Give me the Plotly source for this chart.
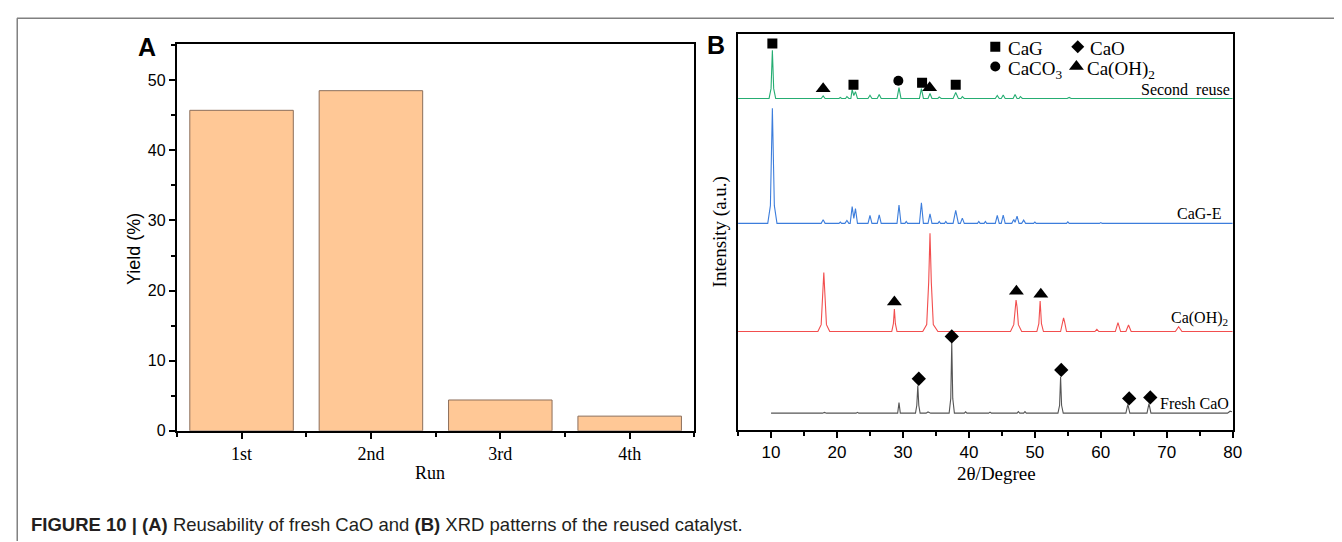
import plotly.graph_objects as go

# ---------------- data ----------------
RUN_LABELS = ["1st", "2nd", "3rd", "4th"]
YIELD_PCT = [45.7, 48.5, 4.4, 2.1]

# XRD patterns: (2theta, relative intensity above the pattern baseline)
XRD_SECOND_REUSE = [
    (5.0, 0), (9.7, 0), (10.0, 10), (10.2, 49), (10.4, 10), (10.7, 0),
    (17.6, 0), (17.9, 2.7), (18.2, 0), (20.3, 0), (20.5, 1), (20.7, 0),
    (21.3, 0), (21.5, 2), (21.8, 0), (22.1, 0), (22.3, 9), (22.55, 3), (22.8, 7), (23.1, 0),
    (24.7, 0), (25.0, 3.3), (25.3, 0), (26.1, 0), (26.4, 4), (26.7, 0),
    (29.1, 0), (29.4, 11), (29.7, 0), (32.5, 0), (32.8, 10), (33.1, 0),
    (33.8, 0), (34.1, 5), (34.4, 0), (35.3, 0), (35.5, 1.5), (35.8, 0),
    (37.6, 0), (38.0, 6), (38.4, 0), (38.8, 0), (39.0, 2), (39.3, 0),
    (44.0, 0), (44.3, 3), (44.6, 0), (44.9, 0), (45.2, 3.5), (45.5, 0),
    (46.7, 0), (47.0, 4), (47.3, 0), (47.6, 0), (47.8, 2), (48.1, 0),
    (54.9, 0), (55.2, 1), (55.5, 0), (80.0, 0),
]
XRD_CAG_E = [
    (5.0, 0), (9.5, 0), (9.9, 18), (10.2, 117), (10.5, 18), (10.9, 0),
    (17.6, 0), (17.9, 3.7), (18.2, 0), (20.3, 0), (20.5, 1.3), (20.7, 0),
    (21.2, 0), (21.5, 3), (21.8, 0), (22.0, 0), (22.3, 17), (22.55, 5), (22.8, 15), (23.1, 0),
    (24.7, 0), (25.0, 8), (25.3, 0), (26.1, 0), (26.4, 8.7), (26.7, 0),
    (29.1, 0), (29.4, 18.7), (29.7, 0), (30.3, 0), (30.5, 2), (30.7, 0),
    (32.5, 0), (32.8, 21), (33.1, 0), (33.8, 0), (34.1, 9.7), (34.4, 0),
    (35.3, 0), (35.5, 2), (35.7, 0), (36.3, 0), (36.5, 2), (36.7, 0),
    (37.6, 0), (38.0, 13.3), (38.4, 0), (38.7, 0), (39.0, 5.3), (39.3, 0),
    (41.3, 0), (41.5, 2), (41.7, 0), (42.3, 0), (42.5, 2), (42.7, 0),
    (44.0, 0), (44.3, 8), (44.6, 0), (44.9, 0), (45.2, 8.3), (45.5, 0),
    (46.5, 0), (46.8, 4), (47.0, 1), (47.3, 7.3), (47.6, 0),
    (48.0, 0), (48.3, 3.3), (48.6, 0), (49.8, 0), (50.0, 1.3), (50.2, 0),
    (54.8, 0), (55.0, 1.5), (55.2, 0), (59.8, 0), (60.0, 0.8), (60.2, 0), (80.0, 0),
]
XRD_CAOH2 = [
    (5.0, 0), (17.1, 0), (17.6, 7), (17.85, 40), (18.0, 60), (18.15, 40), (18.4, 7), (18.9, 0),
    (28.3, 0), (28.55, 8), (28.7, 23), (28.85, 8), (29.1, 0),
    (33.0, 0), (33.6, 7), (33.9, 50), (34.1, 100), (34.3, 50), (34.6, 7), (35.3, 0),
    (46.3, 0), (46.8, 7), (47.0, 25), (47.15, 32), (47.3, 25), (47.5, 7), (48.0, 0),
    (50.3, 0), (50.6, 8), (50.8, 31), (51.0, 8), (51.3, 0),
    (53.9, 0), (54.2, 10), (54.35, 14), (54.5, 10), (54.8, 0),
    (59.1, 0), (59.4, 2.3), (59.7, 0), (62.2, 0), (62.6, 9), (63.0, 0),
    (63.8, 0), (64.2, 6.7), (64.6, 0), (71.3, 0), (71.8, 5), (72.3, 0), (80.0, 0),
]
XRD_FRESH_CAO = [
    (10.0, 0), (17.8, 0), (18.1, 0.8), (18.4, 0), (22.9, 0), (23.1, 0.8), (23.3, 0),
    (29.2, 0), (29.4, 10.7), (29.6, 0),
    (31.9, 0), (32.1, 8), (32.25, 28), (32.4, 8), (32.6, 0),
    (33.5, 0), (33.8, 1.2), (34.2, 0),
    (37.0, 0), (37.25, 15), (37.4, 72), (37.55, 15), (37.8, 0),
    (39.3, 0), (39.5, 1.3), (39.7, 0), (43.0, 0), (43.2, 1), (43.4, 0),
    (47.3, 0), (47.5, 1.5), (47.7, 0), (48.3, 0), (48.5, 1.5), (48.7, 0),
    (53.5, 0), (53.75, 8), (53.9, 37), (54.05, 8), (54.3, 0),
    (63.8, 0), (64.1, 9), (64.4, 0), (67.0, 0), (67.3, 9.7), (67.6, 0),
    (79.2, 0), (79.6, 2), (79.9, 1.5),
]
PATTERN_NAMES = ["Second  reuse", "CaG-E", "Ca(OH)<sub>2</sub>", "Fresh CaO"]

# phase markers (2theta, intensity in panel-B units)
CAG_MARK_X = [10.2, 22.5, 32.9, 38.0]
CAG_MARK_Y = [393, 351, 353, 351]
CACO3_MARK_X = [29.3]
CACO3_MARK_Y = [355]
CAOH2_MARK_X = [17.9, 34.05, 28.7, 47.2, 50.9]
CAOH2_MARK_Y = [347, 348, 130, 141, 138]
CAO_MARK_X = [32.4, 37.4, 54.0, 64.3, 67.5]
CAO_MARK_Y = [52, 95, 61, 32, 33]

# ---------------- layout helpers ----------------
W, H = 1342, 542
def PX(x):
    return x / W
def PY(y):
    return 1 - y / H

SERIF = "Liberation Serif, Times New Roman, serif"
SANS = "Liberation Sans, Arial, sans-serif"

BASELINES = [337, 210, 100, 17]
COLORS = ["#25AD72", "#3C7DDC", "#F24E4E", "#555555"]

fig = go.Figure()

# Panel A bars
fig.add_trace(go.Bar(
    x=list(range(len(RUN_LABELS))), y=YIELD_PCT, width=0.8,
    marker=dict(color="#FFC896", line=dict(color="#8C6E5A", width=1)),
    xaxis="x", yaxis="y", showlegend=False,
))

# Panel B patterns
for pat, base, col in zip([XRD_SECOND_REUSE, XRD_CAG_E, XRD_CAOH2, XRD_FRESH_CAO], BASELINES, COLORS):
    fig.add_trace(go.Scatter(
        x=[p[0] for p in pat], y=[p[1] + base for p in pat], mode="lines",
        line=dict(color=col, width=1.1), xaxis="x2", yaxis="y2", showlegend=False,
    ))

def add_marks(xs, ys, symbol, size):
    fig.add_trace(go.Scatter(
        x=xs, y=ys, mode="markers",
        marker=dict(symbol=symbol, size=size, color="black", line=dict(width=0)),
        xaxis="x2", yaxis="y2", showlegend=False,
    ))

add_marks(CAG_MARK_X, CAG_MARK_Y, "square", 10)
add_marks(CACO3_MARK_X, CACO3_MARK_Y, "circle", 10)
add_marks(CAOH2_MARK_X, CAOH2_MARK_Y, "triangle-up", 13)
add_marks(CAO_MARK_X, CAO_MARK_Y, "diamond", 11)

# legend keys in panel B
add_marks([44.0], [389.5], "square", 10)
add_marks([56.5], [389.5], "diamond", 10)
add_marks([44.0], [369.5], "circle", 10)
add_marks([56.3], [369.5], "triangle-up", 13)

annotations = []
def ann(text, x, y, size, family, xref="paper", yref="paper", xanchor="center", angle=0, color="black"):
    annotations.append(dict(text=text, x=x, y=y, xref=xref, yref=yref, xanchor=xanchor,
                            yanchor="middle", showarrow=False, textangle=angle,
                            font=dict(size=size, family=family, color=color)))

ann("<b>A</b>", PX(140), PY(40), 25, SANS)
ann("<b>B</b>", PX(713), PY(38), 25, SANS)
ann("Yield (%)", PX(127), PY(245), 18, SANS, angle=-90)
ann("Run", PX(425), PY(473), 18, SERIF)
ann("Intensity (a.u.)", PX(717), PY(228), 19, SERIF, angle=-90)
ann("2θ/Degree", PX(995), PY(473), 19, SERIF)

# legend text
ann("CaG", 45.6, 388, 19, SERIF, "x2", "y2", "left")
ann("CaO", 58.0, 388, 19, SERIF, "x2", "y2", "left")
ann("CaCO<sub>3</sub>", 45.6, 366, 19, SERIF, "x2", "y2", "left")
ann("Ca(OH)<sub>2</sub>", 57.6, 366, 19, SERIF, "x2", "y2", "left")

# pattern labels
label_pos = [(79.9, 346), (78.5, 220), (79.6, 113), (79.7, 27)]
for name, (lx, ly) in zip(PATTERN_NAMES, label_pos):
    ann(name, lx, ly, 16, SERIF, "x2", "y2", "right")

# caption
annotations.append(dict(
    text="<b>FIGURE 10 | (A)</b> Reusability of fresh CaO and <b>(B)</b> XRD patterns of the reused catalyst.",
    x=PX(21), y=PY(525), xref="paper", yref="paper", xanchor="left", yanchor="middle",
    showarrow=False, font=dict(size=18.5, family=SANS, color="#231F20")))

axis_common = dict(showline=True, linecolor="black", linewidth=2, mirror=True,
                   showgrid=False, zeroline=False, ticks="outside", tickcolor="black",
                   tickwidth=2, ticklen=6)

fig.update_layout(
    width=W, height=H, margin=dict(l=0, r=0, t=0, b=0),
    paper_bgcolor="white", plot_bgcolor="white", showlegend=False,
    xaxis=dict(**axis_common, domain=[PX(170), PX(691)], range=[-0.5, 3.5],
               tickvals=list(range(len(RUN_LABELS))), ticktext=RUN_LABELS,
               tickfont=dict(size=18, family=SERIF, color="black"),
               minor=dict(tick0=0.5, dtick=1, ticks="outside", ticklen=4, tickwidth=1.5, tickcolor="black"),
               anchor="y"),
    yaxis=dict(**axis_common, domain=[PY(430), PY(37)], range=[0, 55.1],
               tickvals=[0, 10, 20, 30, 40, 50],
               tickfont=dict(size=16, family=SANS, color="black"),
               minor=dict(dtick=5, ticks="outside", ticklen=4, tickwidth=1.5, tickcolor="black"),
               anchor="x"),
    xaxis2=dict(**axis_common, domain=[PX(735), PX(1233)], range=[5, 80],
                tickvals=[10, 20, 30, 40, 50, 60, 70, 80],
                tickfont=dict(size=17, family=SANS, color="black"),
                minor=dict(dtick=5, tick0=5, ticks="outside", ticklen=4, tickwidth=1.5, tickcolor="black"),
                anchor="y2"),
    yaxis2=dict(showline=True, linecolor="black", linewidth=2, mirror=True,
                showgrid=False, zeroline=False, ticks="", showticklabels=False,
                domain=[PY(429), PY(26)], range=[0, 403], anchor="x2"),
    annotations=annotations,
    shapes=[
        dict(type="line", xref="paper", yref="paper", x0=PX(9), x1=1, y0=PY(10.5), y1=PY(10.5),
             line=dict(color="#808080", width=1.5)),
        dict(type="line", xref="paper", yref="paper", x0=PX(9.3), x1=PX(9.3), y0=PY(10.5), y1=0,
             line=dict(color="#808080", width=1.5)),
    ],
)

fig.write_html("out.html")
